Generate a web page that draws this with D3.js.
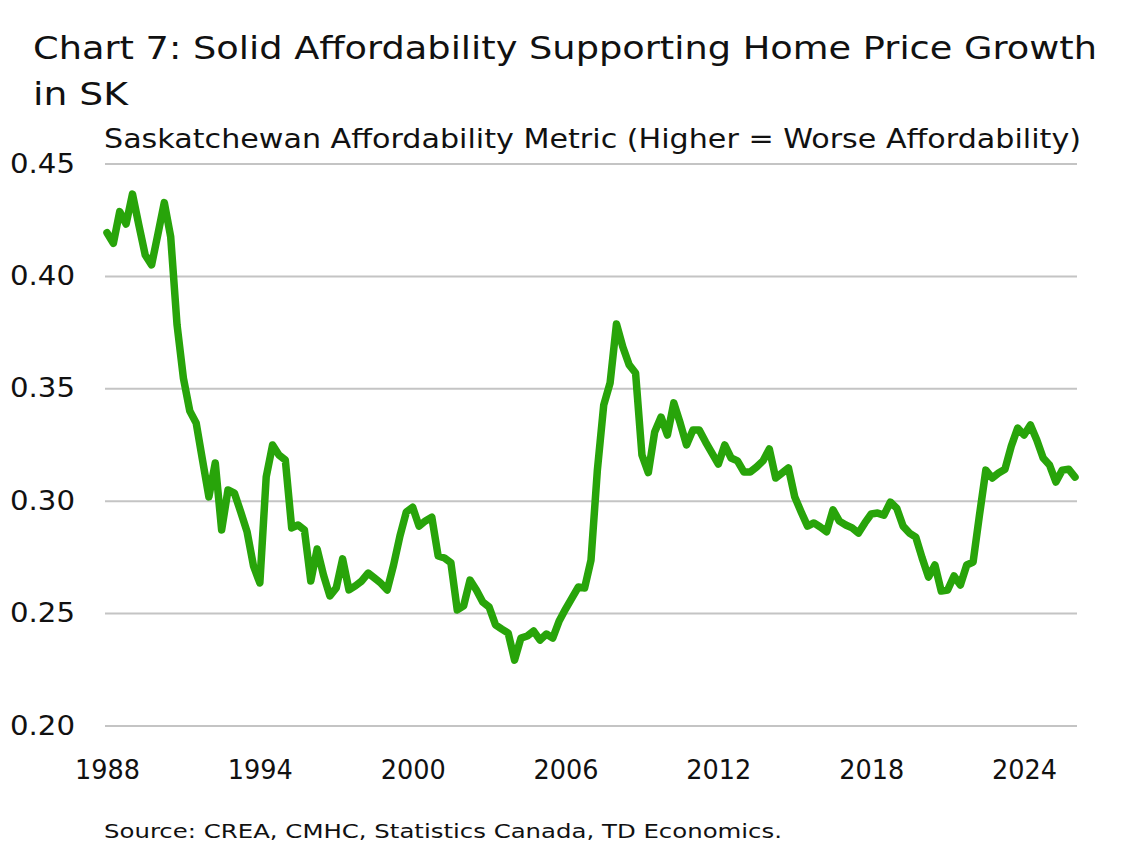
<!DOCTYPE html>
<html>
<head>
<meta charset="utf-8">
<style>
  body { margin: 0; background: #fff; }
  svg text { font-family: "DejaVu Sans", "Noto Sans", sans-serif; fill: #111; }
</style>
</head>
<body>
<svg id="chart" width="1137" height="848"></svg>
<script src="https://cdn.jsdelivr.net/npm/d3@7/dist/d3.min.js"></script>
<script>
// quarterly series, first point = 1988 Q1
var startYear = 1988;
var affordability = [
  0.4192, 0.4145, 0.4286, 0.4231, 0.4364, 0.4226, 0.4093, 0.4049, 0.4186, 0.4326,
  0.4174, 0.3782, 0.3545, 0.3399, 0.3346, 0.3181, 0.3017, 0.3168, 0.2870, 0.3048,
  0.3034, 0.2950, 0.2861, 0.2710, 0.2634, 0.3106, 0.3248, 0.3203, 0.3181, 0.2879,
  0.2892, 0.2870, 0.2643, 0.2785, 0.2669, 0.2576, 0.2612, 0.2741, 0.2603, 0.2621,
  0.2643, 0.2678, 0.2656, 0.2633, 0.2603, 0.2714, 0.2843, 0.2950, 0.2971, 0.2887,
  0.2910, 0.2927, 0.2754, 0.2745, 0.2724, 0.2514, 0.2532, 0.2647, 0.2603, 0.2549,
  0.2527, 0.2448, 0.2429, 0.2411, 0.2291, 0.2389, 0.2398, 0.2420, 0.2380, 0.2407,
  0.2389, 0.2465, 0.2518, 0.2567, 0.2616, 0.2612, 0.2736, 0.3136, 0.3426, 0.3524,
  0.3786, 0.3684, 0.3604, 0.3568, 0.3203, 0.3125, 0.3306, 0.3372, 0.3292, 0.3435,
  0.3346, 0.3248, 0.3314, 0.3314, 0.3261, 0.3212, 0.3163, 0.3248, 0.3190, 0.3177,
  0.3128, 0.3128, 0.3150, 0.3177, 0.3230, 0.3101, 0.3123, 0.3146, 0.3016, 0.2950,
  0.2887, 0.2901, 0.2883, 0.2862, 0.2959, 0.2909, 0.2892, 0.2879, 0.2856, 0.2901,
  0.2941, 0.2945, 0.2936, 0.2994, 0.2967, 0.2887, 0.2856, 0.2838, 0.2745, 0.2660,
  0.2714, 0.2598, 0.2603, 0.2665, 0.2625, 0.2714, 0.2727, 0.2936, 0.3136, 0.3101,
  0.3123, 0.3140, 0.3243, 0.3323, 0.3292, 0.3337, 0.3270, 0.3190, 0.3159, 0.3083,
  0.3136, 0.3140, 0.3105
];
var yTicks = [0.20, 0.25, 0.30, 0.35, 0.40, 0.45];
var xTickYears = [1988, 1994, 2000, 2006, 2012, 2018, 2024];

var data = affordability.map(function(v, i) {
  return { t: startYear + i / 4, v: v };
});

var svg = d3.select("#chart");

var x = d3.scaleLinear().domain([1988, 2026]).range([107, 1075]);
var y = d3.scaleLinear().domain([0.20, 0.45]).range([725.5, 163.5]);

function label(xp, yp, size, len, txt) {
  svg.append("text").attr("x", xp).attr("y", yp)
    .attr("font-size", size)
    .attr("textLength", len).attr("lengthAdjust", "spacingAndGlyphs")
    .text(txt);
}

// titles
label(33, 59, 32, 1064, "Chart 7: Solid Affordability Supporting Home Price Growth");
label(33, 105, 32, 95, "in SK");
label(104, 148, 26, 977, "Saskatchewan Affordability Metric (Higher = Worse Affordability)");

// gridlines + y labels
svg.append("g")
  .attr("transform", "translate(105,0)")
  .call(d3.axisLeft(y).tickValues(yTicks).tickSize(-972).tickPadding(30).tickFormat(d3.format(".2f")))
  .call(function(g) {
    g.select(".domain").remove();
    g.selectAll(".tick line").attr("stroke", "#c4c4c4").attr("stroke-width", 2);
    g.selectAll(".tick text")
      .attr("font-size", 27).attr("font-family", "DejaVu Sans, sans-serif").attr("fill", "#111")
      .attr("textLength", 65).attr("lengthAdjust", "spacingAndGlyphs");
  });

// x labels
svg.append("g")
  .attr("transform", "translate(0,760)")
  .call(d3.axisBottom(x).tickValues(xTickYears).tickSize(0).tickPadding(0).tickFormat(d3.format("d")))
  .call(function(g) {
    g.select(".domain").remove();
    g.selectAll(".tick text")
      .attr("font-size", 27).attr("font-family", "DejaVu Sans, sans-serif").attr("fill", "#111")
      .attr("textLength", 65).attr("lengthAdjust", "spacingAndGlyphs");
  });

// line
var line = d3.line()
  .x(function(d) { return x(d.t); })
  .y(function(d) { return y(d.v); });

svg.append("path")
  .datum(data)
  .attr("fill", "none")
  .attr("stroke", "#28a40a")
  .attr("stroke-width", 7.5)
  .attr("stroke-linejoin", "round")
  .attr("stroke-linecap", "round")
  .attr("d", line);

label(104, 838, 20, 678, "Source: CREA, CMHC, Statistics Canada, TD Economics.");
</script>
</body>
</html>
